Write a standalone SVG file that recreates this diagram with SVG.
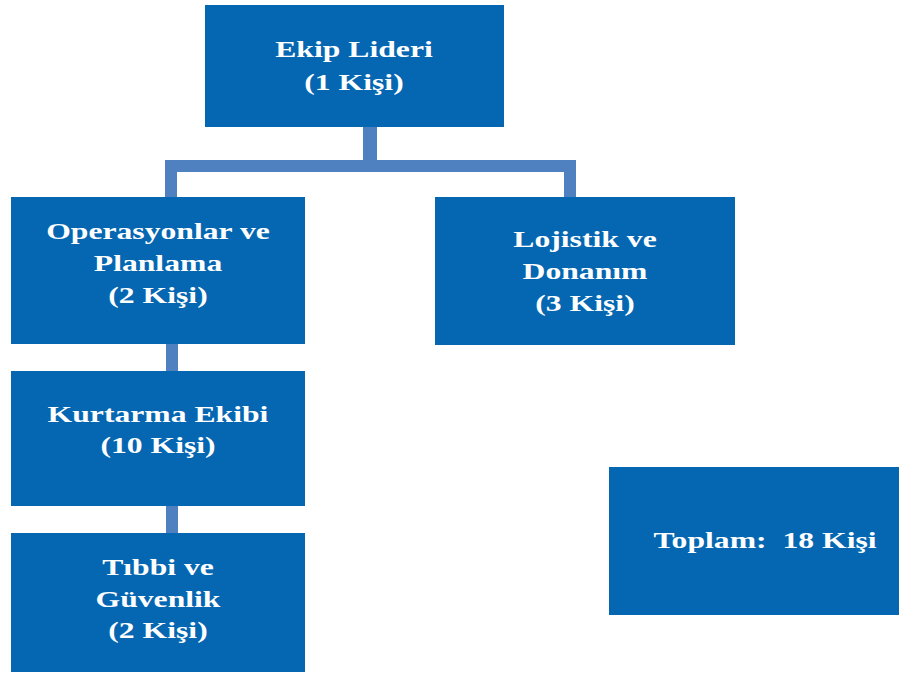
<svg xmlns="http://www.w3.org/2000/svg" width="899" height="675" viewBox="0 0 899 675">
  <style>
    .box { fill: #0567b2; }
    .link { fill: #4f80bf; }
    .lbl { font-family: "Liberation Serif", "Times New Roman", serif; font-weight: bold; font-size: 24px; fill: #ffffff; text-anchor: middle; }
  </style>
  <rect width="899" height="675" fill="#ffffff"/>

  <!-- connectors -->
  <g id="connectors">
    <rect class="link" x="363" y="120" width="14" height="47"/>
    <rect class="link" x="165" y="160" width="411" height="12"/>
    <rect class="link" x="165" y="160" width="12" height="42"/>
    <rect class="link" x="564" y="160" width="12" height="42"/>
    <rect class="link" x="166" y="340" width="12" height="36"/>
    <rect class="link" x="166" y="500" width="12" height="38"/>
  </g>

  <g id="ekip-lideri">
    <rect class="box" x="205" y="5" width="299" height="122"/>
    <text class="lbl" transform="translate(354,57) scale(1.32,1)">Ekip Lideri</text>
    <text class="lbl" transform="translate(354,90) scale(1.32,1)">(1 Kişi)</text>
  </g>

  <g id="operasyonlar">
    <rect class="box" x="11" y="197" width="294" height="147"/>
    <text class="lbl" transform="translate(158,239) scale(1.32,1)">Operasyonlar ve</text>
    <text class="lbl" transform="translate(158,271) scale(1.32,1)">Planlama</text>
    <text class="lbl" transform="translate(158,303) scale(1.32,1)">(2 Kişi)</text>
  </g>

  <g id="lojistik">
    <rect class="box" x="435" y="197" width="300" height="148"/>
    <text class="lbl" transform="translate(585,247) scale(1.32,1)">Lojistik ve</text>
    <text class="lbl" transform="translate(585,279) scale(1.32,1)">Donanım</text>
    <text class="lbl" transform="translate(585,311) scale(1.32,1)">(3 Kişi)</text>
  </g>

  <g id="kurtarma">
    <rect class="box" x="11" y="371" width="294" height="135"/>
    <text class="lbl" transform="translate(158,422) scale(1.32,1)">Kurtarma Ekibi</text>
    <text class="lbl" transform="translate(158,453) scale(1.32,1)">(10 Kişi)</text>
  </g>

  <g id="tibbi">
    <rect class="box" x="11" y="533" width="294" height="139"/>
    <text class="lbl" transform="translate(158,575) scale(1.32,1)">Tıbbi ve</text>
    <text class="lbl" transform="translate(158,607) scale(1.32,1)">Güvenlik</text>
    <text class="lbl" transform="translate(158,638) scale(1.32,1)">(2 Kişi)</text>
  </g>

  <g id="toplam">
    <rect class="box" x="609" y="467" width="292" height="148"/>
    <text class="lbl" transform="translate(765,548) scale(1.32,1)">Toplam:&#160; 18 Kişi</text>
  </g>
</svg>
